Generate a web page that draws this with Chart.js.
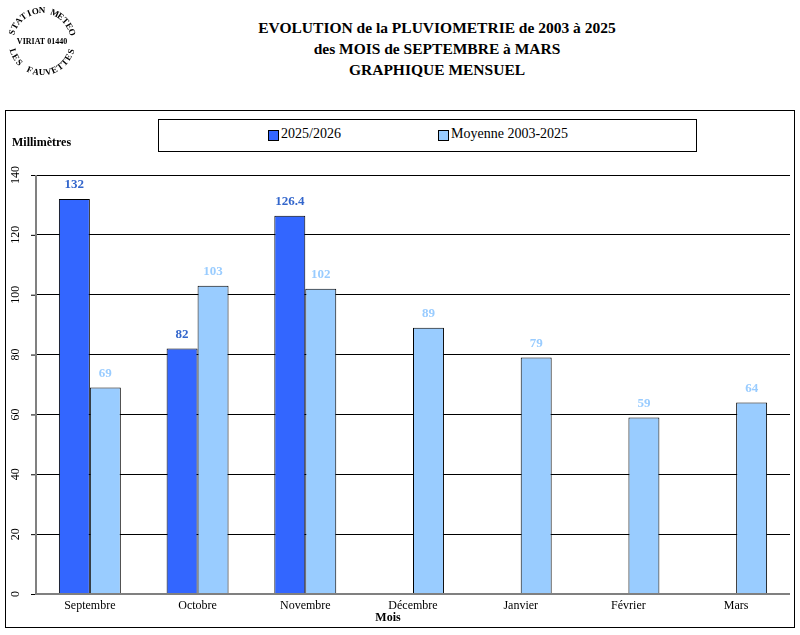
<!DOCTYPE html>
<html><head><meta charset="utf-8">
<script src="https://cdn.jsdelivr.net/npm/chart.js@4"></script>
<style>
body{margin:0;width:800px;height:635px;background:#fff;font-family:"Liberation Serif",serif;position:relative;overflow:hidden}
.t{position:absolute;left:237px;width:400px;text-align:center;font-weight:bold;font-size:15.5px}
#frame{position:absolute;left:5px;top:110px;width:788px;height:516px;border:1px solid #000}
#legend{position:absolute;left:158px;top:119px;width:537px;height:31px;border:1px solid #000;background:#fff;font-size:14px;z-index:2}
.sq{position:absolute;top:10px;width:9px;height:9px;border:1px solid #000}
.lt{position:absolute;top:6px}
</style></head><body>
<canvas id="logo" width="110" height="90" style="position:absolute;left:0;top:0"></canvas>
<div class="t" style="top:19px">EVOLUTION de la PLUVIOMETRIE de 2003 à 2025</div>
<div class="t" style="top:40px">des MOIS de SEPTEMBRE à MARS</div>
<div class="t" style="top:61px">GRAPHIQUE MENSUEL</div>
<div id="frame"><canvas id="c" width="788" height="516"></canvas></div>
<div id="legend">
  <div class="sq" style="left:109px;background:#3366ff"></div><div class="lt" style="left:122px">2025/2026</div>
  <div class="sq" style="left:279px;background:#99ccff"></div><div class="lt" style="left:292px">Moyenne 2003-2025</div>
</div>
<div style="position:absolute;left:12px;top:135px;font-weight:bold;font-size:12px">Millimètres</div>
<script>
const months = ['Septembre', 'Octobre', 'Novembre', 'Décembre', 'Janvier', 'Février', 'Mars'];
const saison = [132, 82, 126.4, null, null, null, null];
const moyenne = [69, 103, 102, 89, 79, 59, 64];
const yTicks = [0, 20, 40, 60, 80, 100, 120, 140];

// logo : texte en cercle
function arcText(ctx, txt, cx, cy, r, start, span, inward) {
    const step = span / (txt.length - 1);
    for (let i = 0; i < txt.length; i++) {
        const a = start + i * step;
        ctx.save();
        ctx.translate(cx + r * Math.cos(a), cy + r * Math.sin(a));
        ctx.rotate(inward ? a + Math.PI / 2 : a - Math.PI / 2);
        ctx.fillText(txt[i], 0, 0);
        ctx.restore();
    }
}
const lg = document.getElementById('logo').getContext('2d');
lg.font = 'bold 9px "Liberation Serif"';
lg.textAlign = 'center';
lg.textBaseline = 'middle';
arcText(lg, 'STATION METEO', 42, 42, 31, Math.PI * 1.1, Math.PI * 0.8, true);
arcText(lg, 'LES FAUVETTES', 42, 42, 31, Math.PI * 0.9, -Math.PI * 0.8, false);
lg.font = 'bold 8px "Liberation Serif"';
lg.fillText('VIRIAT 01440', 42, 42);

const extras = {
    id: 'extras',
    afterDraw(chart) {
        const ctx = chart.ctx, y = chart.scales.y, x = chart.scales.x, a = chart.chartArea;
        ctx.save();
        ctx.font = '12px "Liberation Serif"';
        ctx.fillStyle = '#000';
        ctx.textAlign = 'center';
        ctx.textBaseline = 'middle';
        yTicks.forEach(v => {
            ctx.save();
            ctx.translate(a.left - 20, y.getPixelForValue(v));
            ctx.rotate(-Math.PI / 2);
            ctx.fillText(v, 0, 0);
            ctx.restore();
            ctx.strokeStyle = '#000';
            ctx.beginPath();
            ctx.moveTo(a.left - 5, y.getPixelForValue(v) + 0.5);
            ctx.lineTo(a.left, y.getPixelForValue(v) + 0.5);
            ctx.stroke();
        });
        ctx.strokeStyle = '#808080';
        ctx.lineWidth = 2;
        ctx.beginPath();
        ctx.moveTo(a.left, a.top);
        ctx.lineTo(a.left, a.bottom);
        ctx.lineTo(a.right, a.bottom);
        ctx.stroke();
        ctx.font = 'bold 12px "Liberation Serif"';
        ctx.fillText('Mois', x.getPixelForValue(3) - 25, a.bottom + 24);
        ctx.font = 'bold 13px "Liberation Serif"';
        const cols = ['#3366cc', '#99ccff'];
        chart.data.datasets.forEach((ds, i) => {
            chart.getDatasetMeta(i).data.forEach((bar, j) => {
                if (ds.data[j] == null) return;
                ctx.fillStyle = cols[i];
                ctx.fillText(ds.data[j], bar.x, bar.y - 14);
            });
        });
        ctx.restore();
    }
};

new Chart(document.getElementById('c'), {
    type: 'bar',
    data: {
        labels: months,
        datasets: [
            { data: saison, backgroundColor: '#3366ff', borderColor: '#000', borderWidth: 1, borderSkipped: 'bottom' },
            { data: moyenne, backgroundColor: '#99ccff', borderColor: '#000', borderWidth: 1, borderSkipped: 'bottom' }
        ]
    },
    options: {
        responsive: false,
        animation: false,
        layout: { padding: { left: 30, top: 64, right: 4, bottom: 0 } },
        plugins: { legend: { display: false }, tooltip: { enabled: false } },
        datasets: { bar: { categoryPercentage: 0.575, barPercentage: 1 } },
        scales: {
            x: {
                grid: { display: false },
                border: { display: false },
                ticks: { color: '#000', font: { family: 'Liberation Serif', size: 12 }, padding: -3, maxRotation: 0 },
                afterFit: s => { s.height = 33; }
            },
            y: {
                min: 0, max: 140,
                ticks: { display: false, stepSize: 20 },
                grid: { color: '#000', drawTicks: false },
                border: { display: false },
                afterFit: s => { s.width = 0; }
            }
        }
    },
    plugins: [extras]
});
</script>
</body></html>
